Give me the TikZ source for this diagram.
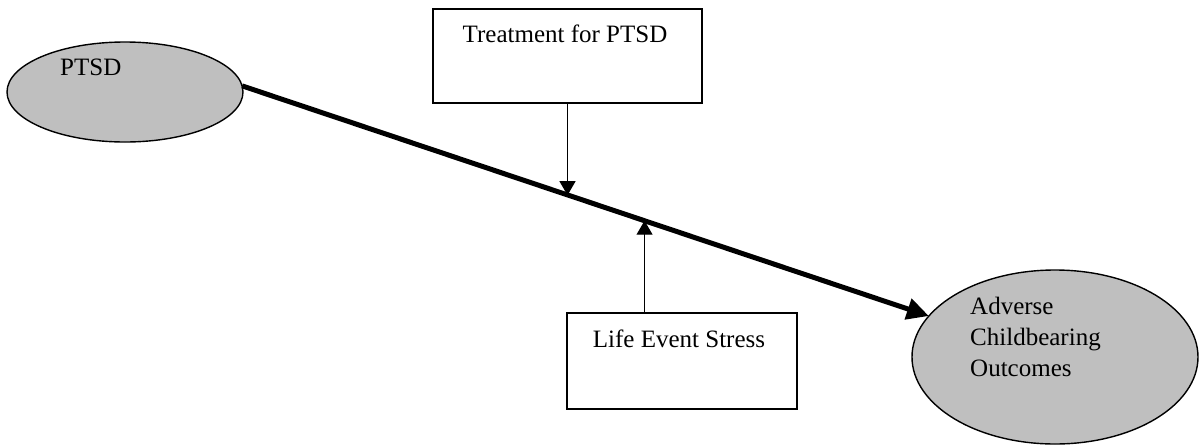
\documentclass[tikz,border=0pt]{standalone}
\usepackage{fontspec}
\setmainfont{Liberation Serif}
\usetikzlibrary{arrows.meta,calc,shapes.geometric}
\begin{document}
\begin{tikzpicture}[x=1pt,y=-1pt,
  oval/.style={ellipse,draw,line width=1.4pt,fill=black!25,inner sep=0pt,outer sep=0pt},
  box/.style={rectangle,draw,line width=1.3pt,inner sep=0pt,outer sep=0pt},
  lbl/.style={inner sep=0pt,font=\fontsize{25}{31}\selectfont},
  main/.style={line width=5pt,-{Triangle[length=22pt,width=21pt]}},
  thin/.style={line width=1.3pt,-{Triangle[length=14pt,width=16pt]}}]
\useasboundingbox (0,0) rectangle (1200,445);
\node[oval,minimum width=236pt,minimum height=100pt] (ptsd) at (125,92) {};
\node[oval,minimum width=286pt,minimum height=174pt] (adv) at (1055,357) {};
\node[box,minimum width=269pt,minimum height=94pt] (treat) at (567.5,56) {};
\node[box,minimum width=230pt,minimum height=96pt] (life) at (682,361) {};
\node[lbl,anchor=base west] (tptsd) at (60,75) {PTSD};
\node[lbl,anchor=north west,align=left] (tadv) at (970,297) {Adverse\\Childbearing\\Outcomes};
\node[lbl,anchor=base] (ttreat) at (565,42) {Treatment for PTSD};
\node[lbl,anchor=base] (tlife) at (679,347) {Life Event Stress};
\draw[main] (ptsd.3) -- (adv.162);
\coordinate (m1) at ($(ptsd.3)!0.475!(adv.162)$);
\coordinate (m2) at ($(ptsd.3)!0.586!(adv.162)$);
\draw[thin] (treat.south) -- (treat.south |- m1);
\draw[thin] (m2 |- life.north) -- (m2);
\end{tikzpicture}
\end{document}
